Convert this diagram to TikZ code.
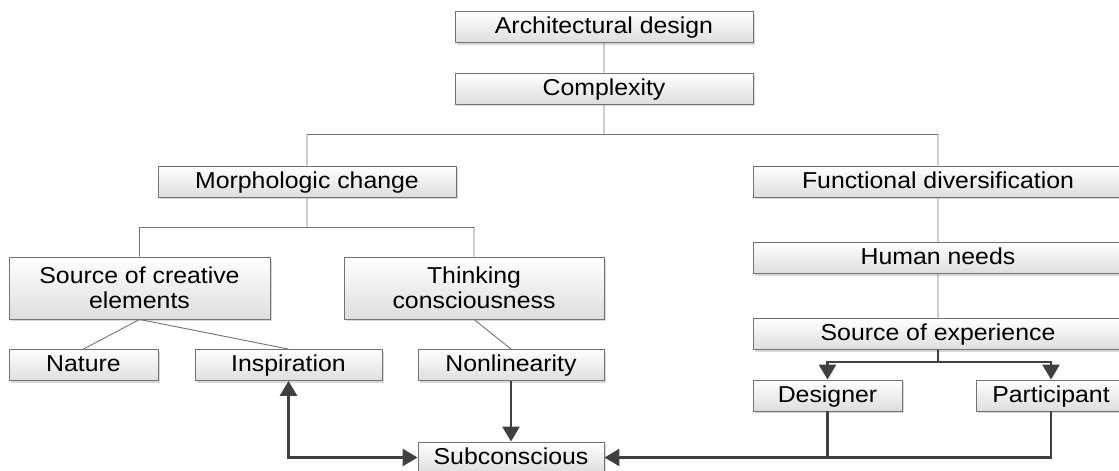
\documentclass[tikz,border=0pt]{standalone}
\usepackage{fontspec}
\setmainfont{Liberation Sans}[FakeStretch=1.08]
\usetikzlibrary{positioning, arrows.meta, shadows}

\tikzset{
    box/.style={draw=black!55, line width=0.9pt, top color=white, bottom color=black!13,
        minimum height=31pt, inner sep=0pt, align=center, font=\fontsize{23pt}{25pt}\selectfont,
        drop shadow={shadow xshift=2pt, shadow yshift=-2pt, fill=black!30}},
    block/.style={box, text height=17.5pt, text depth=4.5pt},
    link/.style={draw=black!55, line width=0.9pt},
    flow/.style={draw=black!75, line width=2.8pt}
}

\begin{document}
\begin{tikzpicture}[on grid, >={Triangle[length=15pt, width=17pt]}]
    \useasboundingbox (0,0) rectangle (1119pt,-471pt);
    \node[block, minimum width=298pt] (arch) at (604pt,-27pt) {Architectural design};
    \node[block, minimum width=298pt] (cplx) [below=61.5pt of arch] {Complexity};
    \node[block, minimum width=298pt] (morph) [below left=93pt and 297pt of cplx] {Morphologic change};
    \node[block, minimum width=370pt] (func) [below right=93pt and 334pt of cplx] {Functional diversification};
    \node[box, minimum width=261pt, minimum height=62pt] (creat) [below left=106.5pt and 167.5pt of morph] {Source of creative\\elements};
    \node[box, minimum width=260pt, minimum height=62pt] (think) [below right=106.5pt and 167pt of morph] {Thinking\\consciousness};
    \node[block, minimum width=370pt] (human) [below=76.5pt of func] {Human needs};
    \node[block, minimum width=370pt] (exper) [below=76pt of human] {Source of experience};
    \node[block, minimum width=149pt] (nature) [below left=77pt and 56pt of creat] {Nature};
    \node[block, minimum width=187pt] (insp) [right=205pt of nature] {Inspiration};
    \node[block, minimum width=186pt] (nonlin) [right=222.5pt of insp] {Nonlinearity};
    \node[block, minimum width=149pt] (designer) [below left=61.5pt and 110.5pt of exper] {Designer};
    \node[block, minimum width=150pt] (partic) [right=223.5pt of designer] {Participant};
    \node[block, minimum width=186pt] (subc) [below=92.5pt of nonlin] {Subconscious};
	\path[link]
	(arch) -- (cplx)
	(cplx.south) -- ++(0,-30pt) coordinate (s_0)
	(morph.north) |- (s_0) -| (func.north)
	(morph.south) -- ++(0,-30pt) coordinate (s_1)
	(creat.north) |- (s_1) -| (think.north)
	(creat.south) -- (nature.north)
	(creat.south) -- (insp.north)
	(think.south) -- (nonlin.north)
	(func) -- (human)
	(human) -- (exper);
	\path[flow]
	(exper.south) -- ++(0,-12pt) coordinate (s_2)
	(designer.south) -- (designer.south |- subc.east);
    \draw[flow, ->] (s_2) -| (designer.north);
    \draw[flow, ->] (s_2) -| (partic.north);
    \draw[flow, ->] (nonlin) -- (subc);
    \draw[flow, <->] (insp.south) |- (subc.west);
    \draw[flow, ->] (partic.south) |- (subc.east);
\end{tikzpicture}
\end{document}
